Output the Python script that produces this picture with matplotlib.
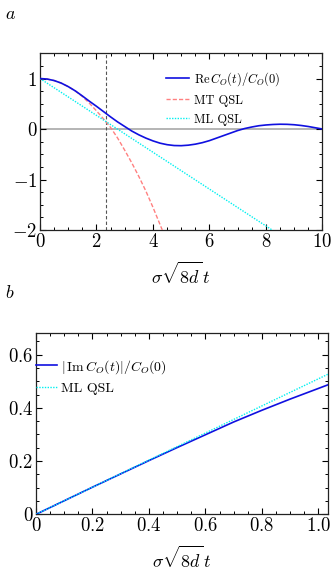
import matplotlib
matplotlib.use("Agg")
import matplotlib.pyplot as plt
from matplotlib.ticker import MultipleLocator, FuncFormatter

plt.rcParams['font.family'] = 'serif'
plt.rcParams['font.serif'] = ['cmr10', 'DejaVu Serif']
plt.rcParams['mathtext.fontset'] = 'cm'
plt.rcParams['axes.formatter.use_mathtext'] = True

# ---- panel a data ----
t_re = [0, 0.25, 0.5, 0.75, 1.0, 1.25, 1.5, 1.75, 2.0, 2.25, 2.5, 2.75, 3.0, 3.25, 3.5, 3.75,
        4.0, 4.25, 4.5, 4.75, 5.0, 5.25, 5.5, 5.75, 6.0, 6.25, 6.5, 6.75, 7.0, 7.25, 7.5, 7.75,
        8.0, 8.25, 8.5, 8.75, 9.0, 9.25, 9.5, 9.75, 10.0]
re_c = [1.0, 0.99, 0.96, 0.91, 0.84, 0.755, 0.655, 0.55, 0.45, 0.345, 0.24, 0.14, 0.05, -0.04,
        -0.115, -0.18, -0.235, -0.28, -0.31, -0.327, -0.33, -0.32, -0.30, -0.27, -0.23, -0.18,
        -0.13, -0.08, -0.03, 0.01, 0.04, 0.065, 0.08, 0.09, 0.095, 0.093, 0.085, 0.07, 0.05,
        0.025, 0.0]
t_mt = [0, 0.25, 0.5, 0.75, 1.0, 1.25, 1.5, 1.75, 2.0, 2.25, 2.5, 2.75, 3.0, 3.25, 3.5, 3.75, 4.0, 4.33]
mt_qsl = [1.0, 0.99, 0.96, 0.91, 0.84, 0.755, 0.645, 0.51, 0.36, 0.2, 0.03, -0.18, -0.42, -0.67,
          -0.94, -1.23, -1.55, -2.0]
t_ml = [0, 8.22]
ml_qsl = [1.0, -2.0]
t_cross = 2.32

# ---- panel b data ----
t_im = [0, 0.1, 0.2, 0.3, 0.4, 0.5, 0.6, 0.7, 0.8, 0.9, 1.0, 1.035]
im_c = [0, 0.051, 0.102, 0.152, 0.202, 0.251, 0.299, 0.347, 0.391, 0.433, 0.473, 0.487]
t_ml_b = [0, 1.035]
ml_b = [0, 0.527]

fig = plt.figure(figsize=(3.32, 5.73), dpi=100)
axa = fig.add_axes([0.1205, 0.5986, 0.8505, 0.3084])
axb = fig.add_axes([0.1084, 0.1024, 0.8805, 0.3159])

blue = '#1010e0'
red = '#ff8080'
cyan = '#00f0f0'

axa.axhline(0, color='#a8a8a8', lw=1.2, zorder=1)
axa.axvline(t_cross, color='#555555', lw=0.8, ls=(0, (3, 2)), zorder=1)
axa.plot(t_re, re_c, color=blue, lw=1.2, label=r'$\mathrm{Re}\,C_O(t)/C_O(0)$', zorder=4)
axa.plot(t_mt, mt_qsl, color=red, lw=1.0, ls=(0, (3, 1.5)), label='MT QSL', zorder=3)
axa.plot(t_ml, ml_qsl, color=cyan, lw=1.0, ls=(0, (1, 1)), label='ML QSL', zorder=3)
axa.set_xlim(0, 10)
axa.set_ylim(-2, 1.5)
axa.xaxis.set_major_locator(MultipleLocator(2))
axa.xaxis.set_minor_locator(MultipleLocator(0.5))
axa.yaxis.set_major_locator(MultipleLocator(1))
axa.yaxis.set_minor_locator(MultipleLocator(0.25))
axa.set_xlabel(r'$\sigma\sqrt{8d}\,t$', fontsize=13, labelpad=7)
axa.legend(loc='upper left', bbox_to_anchor=(0.445, 0.905), frameon=False, fontsize=9,
           handlelength=1.9, handletextpad=0.35, borderpad=0, borderaxespad=0, labelspacing=0.55)


def fmt_b(v, pos):
    if abs(v) < 1e-9:
        return r'$0$'
    return r'$%.1f$' % v


axb.plot(t_im, im_c, color=blue, lw=1.2, label=r'$|\,\mathrm{Im}\,C_O(t)|/C_O(0)$', zorder=3)
axb.plot(t_ml_b, ml_b, color=cyan, lw=1.0, ls=(0, (1, 1)), label='ML QSL', zorder=4)
axb.set_xlim(0, 1.035)
axb.set_ylim(0, 0.68)
axb.xaxis.set_major_locator(MultipleLocator(0.2))
axb.xaxis.set_minor_locator(MultipleLocator(0.05))
axb.yaxis.set_major_locator(MultipleLocator(0.2))
axb.yaxis.set_minor_locator(MultipleLocator(0.05))
axb.xaxis.set_major_formatter(FuncFormatter(fmt_b))
axb.yaxis.set_major_formatter(FuncFormatter(fmt_b))
axb.set_xlabel(r'$\sigma\sqrt{8d}\,t$', fontsize=13, labelpad=7)
axb.legend(loc='upper left', bbox_to_anchor=(0.0, 0.865), frameon=False, fontsize=10,
           handlelength=1.5, handletextpad=0.3, borderpad=0, borderaxespad=0, labelspacing=0.45)

for ax in (axa, axb):
    ax.tick_params(which='both', direction='in', top=True, right=True, labelsize=13.5, pad=2)
    ax.tick_params(which='major', length=4, width=0.8)
    ax.tick_params(which='minor', length=2.2, width=0.7)
    for s in ax.spines.values():
        s.set_linewidth(0.9)
        s.set_color('#222222')

fig.text(0.015, 0.975, r'$a$', fontsize=13, ha='left', va='center')
fig.text(0.015, 0.49, r'$b$', fontsize=13, ha='left', va='center')

fig.savefig('out.png', dpi=100)
